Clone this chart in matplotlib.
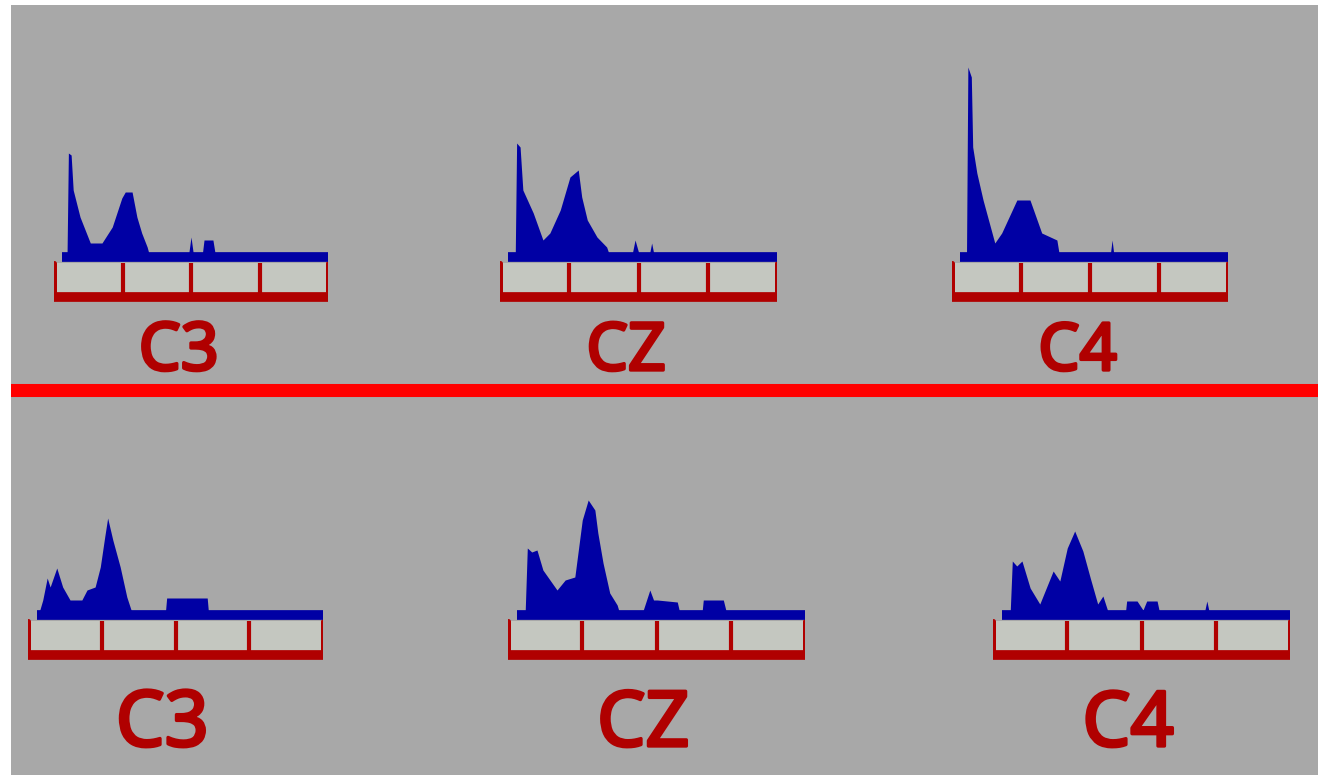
import matplotlib.pyplot as plt
from matplotlib import font_manager
from matplotlib import patheffects as pe
from matplotlib.textpath import TextPath

# power spectra (Hz, arbitrary power units)
top_c3_hz = [1.2, 1.9, 2.1, 2.5, 2.8, 3.8, 5.3, 7.0, 8.5, 9.9, 10.4, 11.4, 12.1, 12.8, 13.6, 14.0,
             19.6, 20.0, 20.4, 21.6, 21.9, 23.2, 23.6, 40.0]
top_c3_pow = [0, 0, 10.4, 10.2, 6.7, 4.0, 1.4, 1.4, 3.0, 5.9, 6.5, 6.5, 4.0, 2.4, 1.0, 0,
              0, 2.0, 0, 0, 1.7, 1.7, 0, 0]

top_cz_hz = [1.2, 2.2, 2.4, 2.9, 3.3, 4.8, 6.2, 7.2, 8.7, 10.1, 11.3, 11.8, 12.6, 14.0, 15.4, 15.9,
             19.0, 19.5, 20.2, 21.5, 21.9, 22.3, 40.0]
top_cz_pow = [0, 0, 11.4, 11.0, 6.7, 4.4, 1.7, 2.4, 4.7, 8.0, 8.7, 6.0, 3.7, 2.0, 1.0, 0,
              0, 1.7, 0, 0, 1.4, 0, 0]

top_c4_hz = [1.2, 2.1, 2.3, 2.8, 3.0, 3.6, 4.5, 6.2, 7.2, 9.4, 11.3, 13.0, 15.2, 15.6,
             22.9, 23.2, 23.5, 40.0]
top_c4_pow = [0, 0, 19.0, 18.0, 11.0, 8.4, 5.7, 1.4, 2.4, 5.7, 5.7, 2.4, 1.7, 0,
              0, 1.7, 0, 0]

bot_c3_hz = [1.2, 1.4, 2.0, 2.6, 3.0, 3.9, 4.7, 5.7, 7.3, 8.0, 9.1, 9.8, 10.4, 10.8, 11.5, 12.5,
             13.4, 14.2, 18.6, 18.8, 24.3, 24.5, 40.0]
bot_c3_pow = [0, 0, 1.5, 3.7, 2.8, 4.7, 2.8, 1.5, 1.5, 2.5, 2.8, 4.8, 7.8, 9.7, 7.5, 4.8,
              1.8, 0, 0, 1.7, 1.7, 0, 0]

bot_cz_hz = [1.2, 2.3, 2.6, 3.2, 3.9, 4.7, 6.6, 7.7, 9.0, 10.0, 10.8, 11.7, 12.1, 12.8, 13.7, 14.7,
             15.1, 18.0, 19.1, 19.6, 20.1, 22.8, 23.2, 26.1, 26.3, 29.0, 29.5, 40.0]
bot_cz_pow = [0, 0, 6.7, 6.3, 6.5, 4.5, 2.5, 3.5, 3.8, 9.5, 11.5, 10.5, 8.2, 5.2, 2.2, 1.0,
              0, 0, 2.5, 1.5, 1.5, 1.3, 0, 0, 1.5, 1.5, 0, 0]

bot_c4_hz = [1.2, 2.3, 2.6, 3.2, 3.9, 5.0, 6.3, 8.1, 9.0, 10.0, 11.0, 12.1, 13.1, 14.1, 14.8, 15.5,
             17.8, 18.0, 19.4, 20.2, 20.7, 22.1, 22.5, 28.4, 28.8, 29.2, 40.0]
bot_c4_pow = [0, 0, 5.4, 4.9, 5.4, 2.7, 1.1, 4.4, 3.4, 6.7, 8.4, 6.4, 3.7, 1.1, 1.9, 0.3,
              0, 1.4, 1.4, 0.5, 1.4, 1.4, 0, 0, 1.4, 0, 0]

channels = ['C3', 'CZ', 'C4']
band_edges = [10, 20, 30]

GRAY = '#a8a8a8'
BLUE = '#0000a4'
RED = '#b00000'
LIGHT = '#c4c7c0'

# Noto Sans is the narrowest face here; a stroke makes it heavy like the original
label_font = font_manager.FontProperties(family='Noto Sans')
label_fx = [pe.withStroke(linewidth=2.4, foreground=RED)]


def label_size(text, w_px, h_px):
    ext = TextPath((0, 0), text, size=100, prop=label_font).get_extents()
    s_w = (w_px - 3) * 72 / ext.width
    s_h = (h_px - 3) * 72 / ext.height
    return (s_w * s_h) ** 0.5


W, H = 1318, 775
fig = plt.figure(figsize=(W / 100, H / 100), dpi=100)
fig.patch.set_facecolor('white')

bg = fig.add_axes([11 / W, 0, 1 - 11 / W, (H - 5) / H])
bg.set_facecolor(GRAY)
bg.set_xticks([])
bg.set_yticks([])
for s in bg.spines.values():
    s.set_visible(False)
bg.set_xlim(0, 1)
bg.set_ylim(0, 1)
bg.axhline(0.5006, color='#ff0000', lw=9.4)


def draw_panel(left_px, right_px, base_px, hz, power, name, label_y, box):
    # 10 px per power unit, bracket spans 0-40 Hz
    ax = fig.add_axes([left_px / W, (H - base_px - 50) / H,
                       (right_px - left_px) / W, 270 / H])
    ax.set_xlim(0, 40)
    ax.set_ylim(-5, 22)
    ax.axis('off')

    ax.fill_between([0, 40], -4.0, -0.6, color=LIGHT, lw=0)
    ax.vlines(band_edges, -4.0, -0.6, color=RED, lw=3)
    ax.plot([0, 0, 40, 40], [-0.6, -4.0, -4.0, -0.6], color=RED, lw=3.6,
            solid_joinstyle='round', solid_capstyle='round')
    ax.plot([0, 40], [-4.0, -4.0], color=RED, lw=7, solid_capstyle='round')

    ax.plot([hz[0], 40], [0, 0], color=BLUE, lw=7, solid_capstyle='butt')
    ax.fill_between(hz, 0, power, color=BLUE, lw=0)

    ax.text(18.2, label_y, name, ha='center', va='baseline',
            fontproperties=label_font, fontsize=label_size(name, *box),
            color=RED, path_effects=label_fx, clip_on=False)


top = [(54, 328, top_c3_hz, top_c3_pow),
       (500, 777, top_cz_hz, top_cz_pow),
       (952, 1228, top_c4_hz, top_c4_pow)]
bottom = [(28, 323, bot_c3_hz, bot_c3_pow),
          (508, 805, bot_cz_hz, bot_cz_pow),
          (993, 1290, bot_c4_hz, bot_c4_pow)]

for (l, r, hz, pw), name in zip(top, channels):
    draw_panel(l, r, 257, hz, pw, name, -11.3, (66, 59))
for (l, r, hz, pw), name in zip(bottom, channels):
    draw_panel(l, r, 615, hz, pw, name, -13.1, (72, 72))

plt.savefig('out.png', dpi=100)
plt.close()
